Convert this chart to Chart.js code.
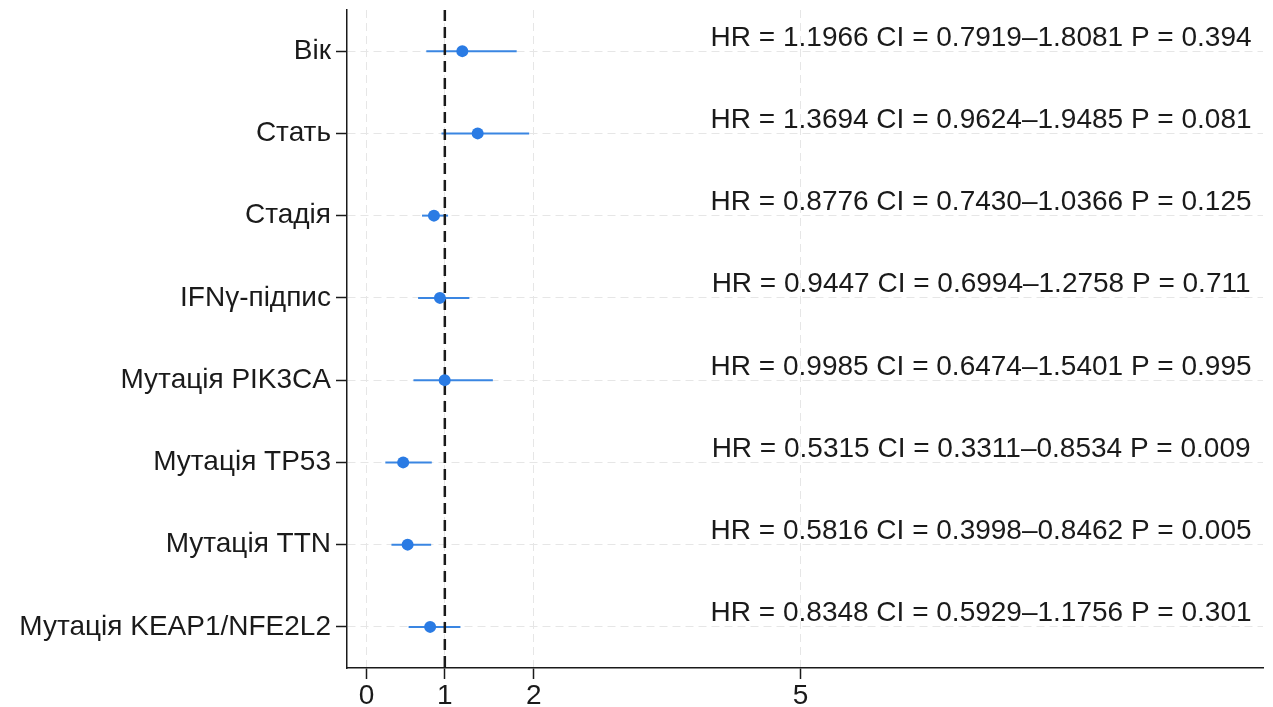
<!DOCTYPE html>
<html>
<head>
<meta charset="utf-8">
<title>Forest plot</title>
<script src="https://cdn.jsdelivr.net/npm/chart.js@4.4.0/dist/chart.umd.min.js"></script>
<style>
  html, body { margin: 0; padding: 0; background: #fff; }
</style>
</head>
<body>
<canvas id="forest" width="1273" height="707"></canvas>
<script>
/* ---------- data ---------- */
const LABELS = [
  'Вік', 'Стать', 'Стадія', 'IFNγ-підпис',
  'Мутація PIK3CA', 'Мутація TP53', 'Мутація TTN', 'Мутація KEAP1/NFE2L2'
];
const HR    = [1.1966, 1.3694, 0.8776, 0.9447, 0.9985, 0.5315, 0.5816, 0.8348];
const CI_LO = [0.7919, 0.9624, 0.7430, 0.6994, 0.6474, 0.3311, 0.3998, 0.5929];
const CI_HI = [1.8081, 1.9485, 1.0366, 1.2758, 1.5401, 0.8534, 0.8462, 1.1756];
const P_VAL = ['0.394', '0.081', '0.125', '0.711', '0.995', '0.009', '0.005', '0.301'];

const REF_HR        = 1;
const X_TICKS       = [0.12, 1, 2, 5];     // the "0" tick sits a little right of zero in the original
const X_TICK_LABELS = ['0', '1', '2', '5'];

/* ---------- look ---------- */
const FONT      = '"Liberation Sans", Arial, sans-serif';
const FONT_SIZE = 28;
const INK       = '#1a1a1a';
const BLUE      = '#2a7be4';
const GRID      = '#e6e6e6';
const TEXT_X    = 7.03;   // centre of the stats column, in HR units
const TEXT_DY   = 0.16;   // stats text sits a bit above its row

const rowY = i => i + 1;

/* stats text to the right of each row */
const statsText = {
  id: 'statsText',
  afterDatasetsDraw (chart) {
    const { ctx, scales: { x, y } } = chart;
    ctx.save();
    ctx.font = `${FONT_SIZE}px ${FONT}`;
    ctx.fillStyle = INK;
    ctx.textAlign = 'center';
    ctx.textBaseline = 'middle';
    HR.forEach((v, i) => {
      const s = `HR = ${v.toFixed(4)} CI = ${CI_LO[i].toFixed(4)}–${CI_HI[i].toFixed(4)} P = ${P_VAL[i]}`;
      ctx.fillText(s, x.getPixelForValue(TEXT_X), y.getPixelForValue(rowY(i) - TEXT_DY));
    });
    ctx.restore();
  }
};

const ciSets = HR.map((_, i) => ({
  type: 'line',
  data: [{ x: CI_LO[i], y: rowY(i) }, { x: CI_HI[i], y: rowY(i) }],
  borderColor: '#3a86e2',
  borderWidth: 2,
  pointRadius: 0,
  order: 2
}));

new Chart(document.getElementById('forest'), {
  type: 'scatter',
  data: {
    datasets: [
      {
        data: HR.map((v, i) => ({ x: v, y: rowY(i) })),
        backgroundColor: BLUE,
        borderWidth: 0,
        pointRadius: 6,
        order: 0
      },
      {
        type: 'line',
        data: [{ x: REF_HR, y: 0.5 }, { x: REF_HR, y: LABELS.length + 0.5 }],
        borderColor: INK,
        borderWidth: 2.5,
        borderDash: [11, 6],
        pointRadius: 0,
        order: 1
      },
      ...ciSets
    ]
  },
  options: {
    responsive: false,
    animation: false,
    layout: { padding: { top: 10, right: 10, left: 0, bottom: 0 } },
    plugins: { legend: { display: false }, tooltip: { enabled: false } },
    scales: {
      x: {
        type: 'linear',
        min: -0.1, max: 10.2,
        afterBuildTicks: s => { s.ticks = X_TICKS.map(v => ({ value: v })); },
        afterFit: s => { s.height = 39; s.paddingLeft = 0; s.paddingRight = 0; },
        ticks: {
          callback: (v, i) => X_TICK_LABELS[i],
          font: { family: FONT, size: FONT_SIZE },
          color: INK,
          padding: 0,
          maxRotation: 0
        },
        grid: { color: GRID, tickColor: INK, tickLength: 11, tickWidth: 1.5 },
        border: { display: true, color: INK, width: 1.5, dash: [8, 5] }
      },
      y: {
        type: 'linear',
        reverse: true,
        min: 0.5, max: LABELS.length + 0.5,
        afterBuildTicks: s => { s.ticks = LABELS.map((_, i) => ({ value: rowY(i) })); },
        afterFit: s => { s.width = 347; s.paddingTop = 0; s.paddingBottom = 0; },
        ticks: {
          callback: (v, i) => LABELS[i],
          font: { family: FONT, size: FONT_SIZE },
          color: INK,
          padding: 5
        },
        grid: { color: GRID, tickColor: INK, tickLength: 11, tickWidth: 1.5 },
        border: { display: true, color: INK, width: 1.5, dash: [8, 5] }
      }
    }
  },
  plugins: [statsText]
});
</script>
</body>
</html>
